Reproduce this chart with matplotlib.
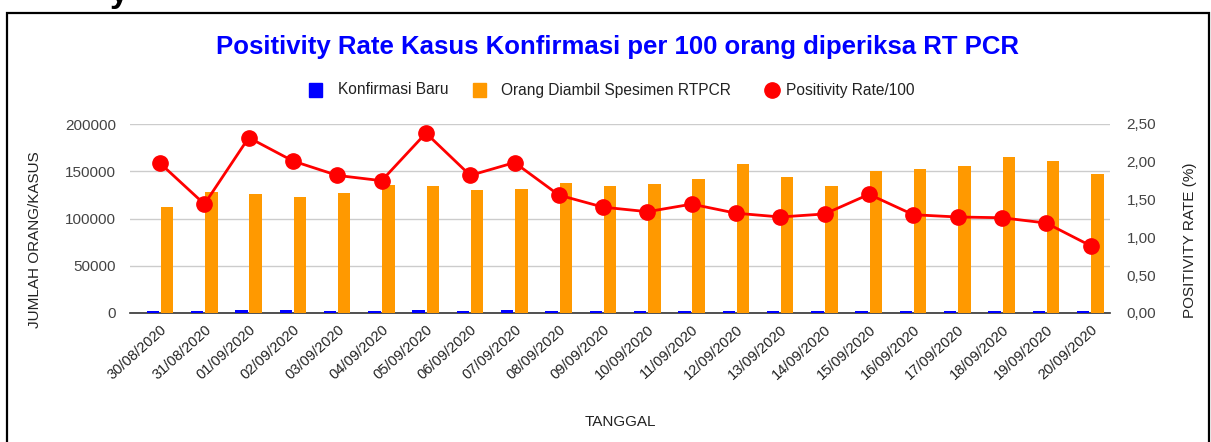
import matplotlib
matplotlib.use("Agg")
import matplotlib.pyplot as plt
from matplotlib.patches import Rectangle
from matplotlib.ticker import FuncFormatter
import numpy as np

plt.rcParams['font.family'] = ['Liberation Sans', 'DejaVu Sans']

dates = ["30/08/2020", "31/08/2020", "01/09/2020", "02/09/2020", "03/09/2020",
         "04/09/2020", "05/09/2020", "06/09/2020", "07/09/2020", "08/09/2020",
         "09/09/2020", "10/09/2020", "11/09/2020", "12/09/2020", "13/09/2020",
         "14/09/2020", "15/09/2020", "16/09/2020", "17/09/2020", "18/09/2020",
         "19/09/2020", "20/09/2020"]
konfirmasi = [2500, 2400, 3500, 3600, 2500, 2400, 3400, 2500, 3300, 2400, 2500,
              2500, 2600, 2500, 2600, 2500, 2500, 2600, 2500, 2600, 2500, 2500]
spesimen = [112400, 128200, 125400, 122900, 127200, 135600, 134200, 130000, 131400,
            137100, 134200, 136000, 141600, 158200, 143400, 134200, 150400, 152200,
            155400, 165200, 161000, 146600]
positivity = [1.98, 1.44, 2.32, 2.01, 1.82, 1.75, 2.38, 1.82, 1.99, 1.56, 1.40,
              1.34, 1.44, 1.32, 1.27, 1.31, 1.57, 1.30, 1.27, 1.26, 1.19, 0.89]

W, H = 1211, 442
fig = plt.figure(figsize=(W / 100, H / 100), dpi=100)

def fx(px):
    return px / W

def fy(py):
    return 1 - py / H

ax = fig.add_axes([fx(130), fy(313), fx(1110) - fx(130), fy(124) - fy(313)])
ax2 = ax.twinx()

x = np.arange(len(dates))
bw = 0.28
ax.bar(x - 0.165, konfirmasi, width=bw, color='#0000ff', zorder=3)
ax.bar(x + 0.155, spesimen, width=bw, color='#ff9900', zorder=3)
ax.set_ylim(0, 200000)
ax.set_yticks([0, 50000, 100000, 150000, 200000])
ax.set_xlim(-0.68, 21.44)
ax.yaxis.grid(True, color='#cccccc', linewidth=1)
ax.set_axisbelow(True)
for s in ['top', 'right', 'left']:
    ax.spines[s].set_visible(False)
ax.spines['bottom'].set_color('#333333')
ax.spines['bottom'].set_linewidth(1.2)
ax.tick_params(axis='y', length=0, labelsize=11, labelcolor='#444444', pad=10)
ax.tick_params(axis='x', length=0, labelsize=10.5, labelcolor='#222222', pad=7)
ax.set_xticks(x)
ax.set_xticklabels(dates, rotation=42, ha='right', rotation_mode='anchor')

ax2.plot(x, positivity, color='#ff0000', linewidth=2, marker='o', markersize=11,
         zorder=4)
ax2.set_ylim(0, 2.5)
ax2.set_yticks([0, 0.5, 1.0, 1.5, 2.0, 2.5])
ax2.yaxis.set_major_formatter(FuncFormatter(lambda v, p: f"{v:.2f}".replace('.', ',')))
for s in ['top', 'right', 'left', 'bottom']:
    ax2.spines[s].set_visible(False)
ax2.tick_params(axis='y', length=0, labelsize=11, labelcolor='#444444', pad=12)

# axis titles
fig.text(fx(35), fy(240), "JUMLAH ORANG/KASUS", rotation=90, ha='center', va='center',
         fontsize=11, color='#222222')
fig.text(fx(1190), fy(240), "POSITIVITY RATE (%)", rotation=90, ha='center', va='center',
         fontsize=11, color='#222222')
fig.text(fx(620), fy(422), "TANGGAL", ha='center', va='center', fontsize=11, color='#222222')

# title
fig.text(fx(617), fy(47), "Positivity Rate Kasus Konfirmasi per 100 orang diperiksa RT PCR",
         ha='center', va='center', fontsize=18.5, fontweight='bold', color='#0000ff')

# legend
ly = fy(90)
fig.patches.append(Rectangle((fx(309), fy(97)), fx(13), 14 / H, color='#0000ff',
                             transform=fig.transFigure, figure=fig))
fig.text(fx(338), ly, "Konfirmasi Baru", ha='left', va='center', fontsize=11.2, color='#222222')
fig.patches.append(Rectangle((fx(473), fy(97)), fx(13), 14 / H, color='#ff9900',
                             transform=fig.transFigure, figure=fig))
fig.text(fx(501), ly, "Orang Diambil Spesimen RTPCR", ha='left', va='center', fontsize=11.2,
         color='#222222')
fig.lines.append(plt.Line2D([fx(772)], [ly], marker='o', markersize=11, color='#ff0000',
                            transform=fig.transFigure, figure=fig))
fig.text(fx(786), ly, "Positivity Rate/100", ha='left', va='center', fontsize=11.2,
         color='#222222')

# frame border and clipped text above
fig.patches.append(Rectangle((fx(7), fy(460)), fx(1209) - fx(7), fy(13) - fy(460),
                             fill=False, edgecolor='black', linewidth=1.6,
                             transform=fig.transFigure, figure=fig))
fig.text(fx(110), fy(2), "y", ha='left', va='baseline', fontsize=24, fontweight='bold',
         color='black')

fig.savefig("out.png", dpi=100)
